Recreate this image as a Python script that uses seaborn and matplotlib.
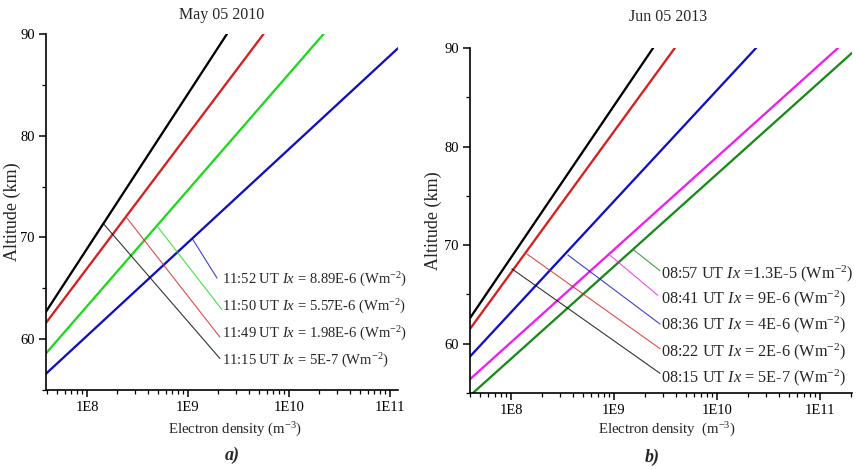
import matplotlib
matplotlib.use("Agg")
import matplotlib.pyplot as plt
from matplotlib.ticker import LogLocator, FixedLocator, NullFormatter, FuncFormatter
import numpy as np
import pandas as pd
import seaborn as sns

# ---- May 05 2010 profiles: density at lower / upper altitude ----
a_times = ["11:15", "11:49", "11:50", "11:52"]
a_ix = ["= 5E-7", "= 1.98E-6", "= 5.57E-6", "= 8.89E-6"]
a_ne_low = [3.93e7, 3.93e7, 3.93e7, 3.93e7]
a_alt_low = [62.7, 61.6, 58.6, 56.6]
a_ne_high = [2.43e9, 5.6e9, 2.2e10, 1.2e11]
a_alt_high = [90.0, 90.0, 90.0, 88.6]
# leader lines (start on profile, end near label)
a_lead_ne = [1.44e8, 2.49e8, 5.05e8, 1.1e9]
a_lead_alt = [71.4, 71.9, 71.0, 69.9]
a_lead_end_ne = [2.07e9, 2.07e9, 2.17e9, 1.94e9]
a_lead_end_alt = [58.1, 60.2, 62.9, 66.0]
a_label_alt = [57.9, 60.5, 63.2, 65.8]
a_label_ne = 2.17e9

# ---- Jun 05 2013 profiles ----
b_times = ["08:15", "08:22", "08:36", "08:41", "08:57"]
b_ix = ["= 5E-7", "= 2E-6", "= 4E-6", "= 9E-6", "=1.3E-5"]
b_ne_low = [4.0e7, 4.0e7, 4.0e7, 4.0e7, 4.27e7]
b_alt_low = [62.6, 61.5, 58.7, 56.4, 55.0]
b_ne_high = [2.4e9, 3.9e9, 2.4e10, 1.5e11, 2.05e11]
b_alt_high = [90.0, 90.0, 90.0, 90.0, 89.5]
b_lead_ne = [1.02e8, 1.43e8, 3.57e8, 9.1e8, 1.56e9]
b_lead_alt = [67.6, 69.1, 69.0, 69.0, 69.5]
b_lead_end_ne = [2.8e9, 2.8e9, 2.8e9, 2.67e9, 2.8e9]
b_lead_end_alt = [57.0, 59.5, 62.0, 64.9, 67.4]
b_label_alt = [56.5, 59.2, 61.9, 64.6, 67.1]
b_label_ne = 2.86e9

a_colors = ["#000000", "#d81e1e", "#1ed81e", "#1010c0"]
b_colors = ["#000000", "#d81e1e", "#1010c8", "#ee1eee", "#1a8a1a"]

sns.set_style("ticks")
plt.rcParams["font.family"] = ["Liberation Serif", "DejaVu Serif"]
plt.rcParams["mathtext.fontset"] = "custom"
plt.rcParams["mathtext.rm"] = "Liberation Serif"
plt.rcParams["mathtext.it"] = "Liberation Serif:italic"
plt.rcParams["mathtext.bf"] = "Liberation Serif:bold"

fig = plt.figure(figsize=(8.57, 4.69), dpi=100)
ax_a = fig.add_axes([46 / 857, 1 - 390 / 469, 352 / 857, 356 / 469])
ax_b = fig.add_axes([470 / 857, 1 - 393 / 469, 382 / 857, 345 / 469])


def sci_fmt(v, pos):
    e = int(round(np.log10(v)))
    return f"1E{e}"


def draw_panel(ax, times, ix, ne_lo, alt_lo, ne_hi, alt_hi, colors,
               lead_ne, lead_alt, lend_ne, lend_alt, lab_ne, lab_alt,
               xlim, fs, xlabel, xlab_pos, ylab_pos):
    rows = []
    for t, n0, z0, n1, z1 in zip(times, ne_lo, alt_lo, ne_hi, alt_hi):
        rows.append({"time": t, "ne": n0, "alt": z0})
        rows.append({"time": t, "ne": n1, "alt": z1})
    df = pd.DataFrame(rows)
    sns.lineplot(data=df, x="ne", y="alt", hue="time", palette=dict(zip(times, colors)),
                 sort=False, estimator=None, lw=1.65, legend=False, ax=ax)
    for i, t in enumerate(times):
        ax.plot([lead_ne[i], lend_ne[i]], [lead_alt[i], lend_alt[i]],
                color=colors[i], lw=0.8, alpha=0.8)
        ax.text(lab_ne, lab_alt[i],
                f"{t} UT $\\mathit{{Ix}}$ {ix[i]} (Wm$^{{-2}}$)",
                ha="left", va="center", fontsize=fs)
    ax.set_xscale("log")
    ax.set_xlim(*xlim)
    ax.set_ylim(55, 90)
    ax.xaxis.set_major_locator(FixedLocator([1e8, 1e9, 1e10, 1e11]))
    ax.xaxis.set_major_formatter(FuncFormatter(sci_fmt))
    ax.xaxis.set_minor_locator(LogLocator(base=10, subs=np.arange(2, 10), numticks=20))
    ax.xaxis.set_minor_formatter(NullFormatter())
    ax.yaxis.set_major_locator(FixedLocator([60, 70, 80, 90]))
    ax.yaxis.set_minor_locator(FixedLocator([55, 65, 75, 85]))
    sns.despine(ax=ax)
    for s in ("left", "bottom"):
        ax.spines[s].set_linewidth(1.2)
        ax.spines[s].set_color("black")
    ax.tick_params(which="major", direction="out", length=5, width=1.1,
                   labelsize=10.5, colors="black", pad=3)
    ax.tick_params(which="minor", direction="out", length=3, width=0.9, colors="black")
    ax.set_xlabel(xlabel, fontsize=10.6)
    ax.xaxis.label.set_va("center")
    ax.xaxis.set_label_coords(*xlab_pos)
    ax.set_ylabel("Altitude (km)", fontsize=13)
    ax.yaxis.label.set_va("center")
    ax.yaxis.set_label_coords(*ylab_pos)


draw_panel(ax_a, a_times, a_ix, a_ne_low, a_alt_low, a_ne_high, a_alt_high, a_colors,
           a_lead_ne, a_lead_alt, a_lead_end_ne, a_lead_end_alt, a_label_ne, a_label_alt,
           (3.93e7, 1.2e11), 10.5, "Electron density (m$^{-3}$)",
           (0.536, -0.112), (-0.095, 0.5))
draw_panel(ax_b, b_times, b_ix, b_ne_low, b_alt_low, b_ne_high, b_alt_high, b_colors,
           b_lead_ne, b_lead_alt, b_lead_end_ne, b_lead_end_alt, b_label_ne, b_label_alt,
           (4.0e7, 2.05e11), 11.7, "Electron density  (m$^{-3}$)",
           (0.516, -0.107), (-0.095, 0.5))

fig.text(222 / 857, 1 - 15 / 469, "May 05 2010", ha="center", va="center", fontsize=11.5)
fig.text(668 / 857, 1 - 17 / 469, "Jun 05 2013", ha="center", va="center", fontsize=11.5)
fig.text(232 / 857, 1 - 455 / 469, "a)", ha="center", va="center", fontsize=13,
         fontweight="bold", fontstyle="italic")
fig.text(652 / 857, 1 - 457 / 469, "b)", ha="center", va="center", fontsize=13,
         fontweight="bold", fontstyle="italic")

fig.savefig("out.png", dpi=100)
